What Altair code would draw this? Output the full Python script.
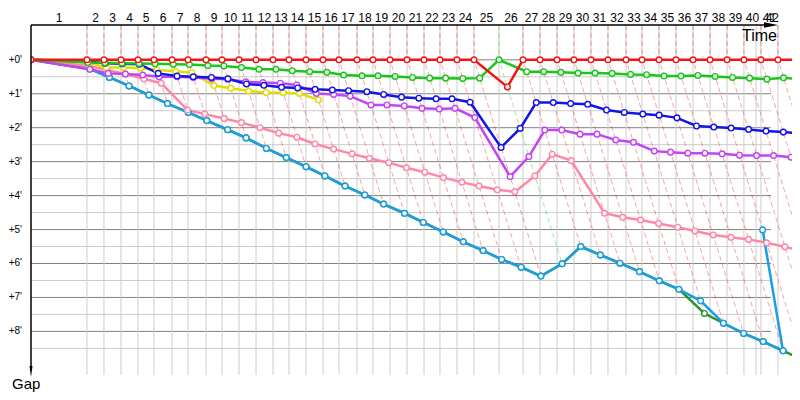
import altair as alt
import pandas as pd

# ---------------- data ----------------
# leader's elapsed time (minutes) at the end of laps 1..42
lap_end = [5.33, 6.95, 8.57, 10.19, 11.71, 13.43, 14.95, 16.67, 18.19, 19.81,
           21.43, 23.05, 24.57, 26.19, 27.81, 29.33, 31.05, 32.57, 34.19, 35.81,
           37.43, 38.95, 40.57, 42.19, 44.57, 46.86, 48.48, 50.10, 51.71, 53.33,
           54.95, 56.67, 58.19, 59.81, 61.43, 63.05, 64.67, 66.29, 67.90, 69.52,
           71.14, 72.86]
extra_grid = [69.05]

# gap to leader (minutes) at the end of each lap, lap 1 first
gap_red = [0, 0, 0, 0, 0, 0, 0, 0, 0, 0, 0, 0, 0, 0, 0, 0, 0, 0, 0, 0,
           0, 0, 0, 0, 0.80, 0, 0, 0, 0, 0, 0, 0, 0, 0, 0, 0, 0, 0, 0, 0,
           0, 0]
gap_green = [0.08, 0.09, 0.10, 0.11, 0.12, 0.13, 0.14, 0.17, 0.18, 0.23,
             0.28, 0.28, 0.32, 0.35, 0.37, 0.45, 0.47, 0.47, 0.49, 0.52,
             0.54, 0.54, 0.55, 0.54, 0.00, 0.35, 0.35, 0.37, 0.39, 0.39,
             0.40, 0.43, 0.44, 0.48, 0.48, 0.46, 0.49, 0.52, 0.54, 0.57,
             0.53, 0.58]
gap_blue = [0.05, 0.10, 0.12, 0.13, 0.40, 0.48, 0.50, 0.52, 0.56, 0.71,
            0.75, 0.81, 0.83, 0.87, 0.89, 0.91, 0.94, 1.02, 1.10, 1.13,
            1.15, 1.15, 1.25, 2.58, 2.02, 1.26, 1.26, 1.29, 1.31, 1.48,
            1.55, 1.60, 1.63, 1.71, 1.95, 1.98, 2.01, 2.05, 2.10, 2.13, 2.17]
gap_violet = [0.28, 0.40, 0.42, 0.45, 0.50, 0.50, 0.52, 0.56, 0.57, 0.65,
              0.67, 0.69, 0.74, 0.99, 1.02, 1.07, 1.33, 1.33, 1.36, 1.43,
              1.45, 1.43, 1.70, 3.44, 2.85, 2.07, 2.07, 2.19, 2.19, 2.36,
              2.43, 2.69, 2.72, 2.75, 2.75, 2.77, 2.81, 2.82, 2.82, 2.87, 3.02]
gap_yellow = [0.07, 0.23, 0.23, 0.25, 0.30, 0.34, 0.38, 0.76, 0.84, 0.92,
              0.96, 0.97, 0.99, 1.18]
gap_pink = [0.18, 0.30, 0.42, 0.56, 0.69, 1.48, 1.60, 1.73, 1.85, 2.00,
            2.16, 2.28, 2.48, 2.63, 2.77, 2.90, 3.03, 3.18, 3.31, 3.47,
            3.61, 3.72, 3.83, 3.89, 3.42, 2.78, 2.97, 4.52, 4.64, 4.72,
            4.82, 4.93, 5.04, 5.16, 5.23, 5.29, 5.39, 5.51, 5.64, 5.76]
gap_sky = [0.27, 0.52, 0.77, 1.04, 1.29, 1.55, 1.79, 2.06, 2.30, 2.61,
           2.88, 3.15, 3.42, 3.72, 3.98, 4.25, 4.52, 4.79, 5.07, 5.36,
           5.62, 5.88, 6.11, 6.37, 6.01, 5.50, 5.75, 5.99, 6.24, 6.51,
           6.76, 7.10, 7.76, 8.06, 8.30, 8.57, 5.01]
gap_olive = [0.27, 0.52, 0.77, 1.04, 1.29, 1.55, 1.79, 2.06, 2.30, 2.61,
             2.88, 3.15, 3.42, 3.72, 3.98, 4.25, 4.52, 4.79, 5.07, 5.36,
             5.62, 5.88, 6.11, 6.37, 6.01, 5.50, 5.75, 5.99, 6.24, 6.51,
             6.76, 7.47, 7.76, 8.06, 8.30, 8.57, 8.83, 9.10]

gap_ticks = [0, 1, 2, 3, 4, 5, 6, 7, 8]

# drawing order: bottom first
cars = ["Olive", "Sky", "Pink", "Yellow", "Violet", "Blue", "Green", "Red"]
gaps = {"Olive": gap_olive, "Sky": gap_sky, "Pink": gap_pink, "Yellow": gap_yellow,
        "Violet": gap_violet, "Blue": gap_blue, "Green": gap_green, "Red": gap_red}
colors = ["#2b962b", "#1c9de6", "#ff86a6", "#dede00", "#c444f2", "#1414e6",
          "#19c719", "#f31616"]

# ---------------- layout ----------------
X_MAX = 72.476
Y_TOP, Y_BOT = -1.025, 9.785
GRID_X_END = 70.476
GRID_Y_END = 9.28
LABEL_X_MAX = 70.6

# ---------------- tables ----------------
rows = []
for c in cars:
    rows.append(dict(car=c, lap=0, time=0.0, gap=0.0))
    for i, v in enumerate(gaps[c]):
        rows.append(dict(car=c, lap=i + 1, time=lap_end[i] + v, gap=v))
series = pd.DataFrame(rows)

drows = []
for k in range(1, len(lap_end) + 1):
    at = [(gaps[c][k - 1], c) for c in cars if len(gaps[c]) >= k]
    gmax = max(v for v, _ in at)
    leader = min(at, key=lambda t: t[0])[1]
    t = lap_end[k - 1]
    drows.append(dict(lap=k, seq=0, time=t, gap=Y_TOP, leader=leader))
    drows.append(dict(lap=k, seq=1, time=t, gap=0.0, leader=leader))
    drows.append(dict(lap=k, seq=2, time=t + gmax, gap=gmax, leader=leader))
dashed = pd.DataFrame(drows)

vgrid = pd.DataFrame({"t": lap_end[:-1] + extra_grid})
vgrid["y0"] = Y_TOP
vgrid["y1"] = GRID_Y_END

hmajor = pd.DataFrame({"y": gap_ticks})
hmajor["x0"] = 0.0
hmajor["x1"] = GRID_X_END
hminor = pd.DataFrame({"y": [v + 0.5 for v in gap_ticks]})
hminor["x0"] = 0.0
hminor["x1"] = GRID_X_END

prev = [0.0] + lap_end[:-1]
laplab = pd.DataFrame({"lap": [str(i + 1) for i in range(len(lap_end))],
                       "mid": [min((a + b) / 2, LABEL_X_MAX) for a, b in zip(prev, lap_end)]})
ylab = pd.DataFrame({"v": gap_ticks, "txt": [f"+{v}'" for v in gap_ticks]})

X = alt.Scale(domain=[0, X_MAX], nice=False, zero=False)
Y = alt.Scale(domain=[Y_TOP, Y_BOT], nice=False, zero=False, reverse=True)
cscale = alt.Scale(domain=cars, range=colors)


def xq(f):
    return alt.X(f, type="quantitative", scale=X, axis=None)


def yq(f):
    return alt.Y(f, type="quantitative", scale=Y, axis=None)


minor = alt.Chart(hminor).mark_rule(color="#cccccc", strokeWidth=1).encode(
    x=xq("x0"), x2="x1", y=yq("y"))
major = alt.Chart(hmajor).mark_rule(color="#808080", strokeWidth=1).encode(
    x=xq("x0"), x2="x1", y=yq("y"))
vert = alt.Chart(vgrid).mark_rule(color="#cccccc", strokeWidth=1).encode(
    x=xq("t"), y=yq("y0"), y2="y1")

dash = alt.Chart(dashed).mark_line(strokeDash=[5, 3], strokeWidth=1, opacity=0.4,
                                    clip=True).encode(
    x=xq("time"), y=yq("gap"),
    color=alt.Color("leader:N", scale=cscale, legend=None),
    detail="lap:N", order="seq:Q")

lines = alt.Chart(series).mark_line(strokeWidth=2.5, clip=True).encode(
    x=xq("time"), y=yq("gap"),
    color=alt.Color("car:N", scale=cscale, legend=None),
    order="lap:Q")

pts = alt.Chart(series).mark_point(shape="circle", filled=False, fill="white",
                                   size=32, strokeWidth=1.4, opacity=1,
                                   clip=True).encode(
    x=xq("time"), y=yq("gap"),
    color=alt.Color("car:N", scale=cscale, legend=None))

lap_text = alt.Chart(laplab).mark_text(font="Liberation Sans", fontSize=12,
                                       color="black", baseline="middle",
                                       align="center").encode(
    x=xq("mid"), y=alt.value(-7.5), text="lap:N")

y_text = alt.Chart(ylab).mark_text(font="Liberation Sans", fontSize=10,
                                   color="black", baseline="middle",
                                   align="right").encode(
    x=alt.value(-9), y=yq("v"), text="txt:N")

one = pd.DataFrame({"a": [0]})
top_axis = alt.Chart(one).mark_rule(color="black", strokeWidth=1.5).encode(
    x=alt.value(0), x2=alt.value(734), y=alt.value(0))
left_axis = alt.Chart(one).mark_rule(color="black", strokeWidth=1.5).encode(
    x=alt.value(0), y=alt.value(0), y2=alt.value(342))
top_arrow = alt.Chart(one).mark_point(shape="M1,0L-1,-0.4L-1,0.4Z", size=196,
                                      filled=True, color="black",
                                      opacity=1).encode(
    x=alt.value(740), y=alt.value(0))
left_arrow = alt.Chart(one).mark_point(shape="M0,1L-0.28,-1L0.28,-1Z", size=121,
                                       filled=True, color="black",
                                       opacity=1).encode(
    x=alt.value(0), y=alt.value(346.5))

time_lbl = alt.Chart(pd.DataFrame({"t": ["Time"]})).mark_text(
    font="Liberation Sans", fontSize=16, color="black", align="right",
    baseline="alphabetic").encode(x=alt.value(746), y=alt.value(15.5), text="t:N")
gap_lbl = alt.Chart(pd.DataFrame({"t": ["Gap"]})).mark_text(
    font="Liberation Sans", fontSize=15, color="black", align="left",
    baseline="alphabetic").encode(x=alt.value(-19), y=alt.value(364), text="t:N")

chart = alt.layer(minor, major, vert, dash, lines, pts, lap_text, y_text,
                  top_axis, left_axis, top_arrow, left_arrow, time_lbl, gap_lbl
                  ).properties(
    width=761, height=367,
    padding={"left": 23, "top": 17, "right": 0, "bottom": 0},
    autosize=alt.AutoSizeParams(type="none"),
    background="white",
).configure_view(stroke=None)

chart.save("out.html", embed_options={"renderer": "svg", "actions": False})
